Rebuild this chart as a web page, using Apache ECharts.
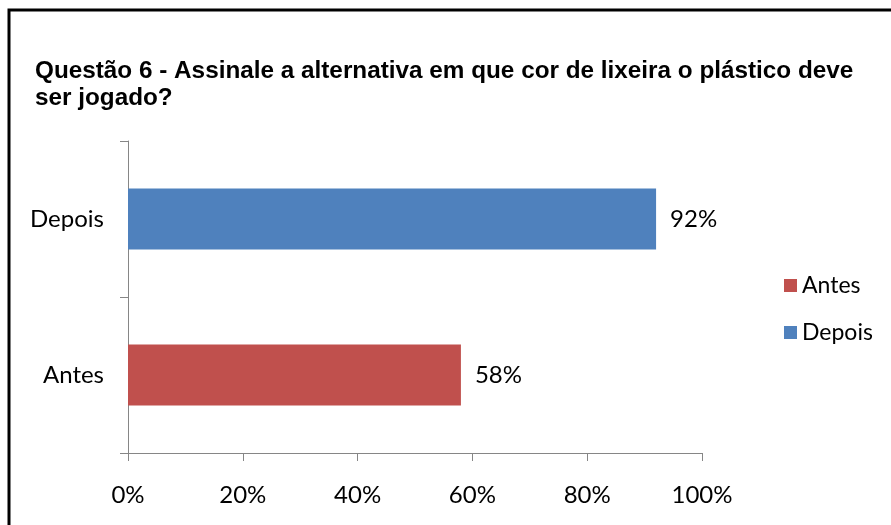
<!DOCTYPE html>
<html><head><meta charset="utf-8">
<script src="https://cdn.jsdelivr.net/npm/echarts@6/dist/echarts.min.js"></script>
<style>html,body{margin:0;padding:0;background:#fff}#c{width:891px;height:525px}</style>
</head><body><div id="c"></div>
<script>
const titleText = "Questão 6 - Assinale a alternativa em que cor de lixeira o plástico deve\nser jogado?";
const categories = ["Antes", "Depois"];
const antesValues = [58, null];
const depoisValues = [null, 92];
const xTicks = [0, 20, 40, 60, 80, 100];

const chart = echarts.init(document.getElementById('c'));
const font = 'Lato';
const labelStyle = {show: true, position: 'right', distance: 14, formatter: p => p.value + '%', fontFamily: font, fontSize: 24, color: '#000'};
chart.setOption({
  animation: false,
  graphic: [{type: 'rect', shape: {x: 9, y: 10, width: 900, height: 600}, style: {fill: 'none', stroke: '#000', lineWidth: 3}, z: 100}],
  title: {text: titleText, left: 30, top: 53, textStyle: {fontFamily: 'Liberation Sans', fontWeight: 'bold', fontSize: 24.3, lineHeight: 27, color: '#000'}},
  grid: {left: 128, top: 141, width: 574, height: 312, containLabel: false},
  legend: {orient: 'vertical', left: 779, top: 269, itemWidth: 13, itemHeight: 13, itemGap: 24, icon: 'rect',
    textStyle: {fontFamily: font, fontSize: 23, color: '#000'}, data: ['Antes', 'Depois']},
  xAxis: {type: 'value', min: 0, max: 100, interval: 20,
    axisLine: {show: true, lineStyle: {color: '#868686'}},
    axisTick: {show: true, length: 8, lineStyle: {color: '#868686'}},
    splitLine: {show: false},
    axisLabel: {formatter: v => xTicks.includes(v) ? v + '%' : '', fontFamily: font, fontSize: 24, color: '#000', margin: 30}},
  yAxis: {type: 'category', data: categories,
    axisLine: {lineStyle: {color: '#868686'}},
    axisTick: {show: true, length: 8, lineStyle: {color: '#868686'}},
    axisLabel: {fontFamily: font, fontSize: 24, color: '#000', margin: 24}},
  series: [
    {name: 'Antes', type: 'bar', stack: 's', data: antesValues, barWidth: '39%', itemStyle: {color: '#C0504D'}, label: labelStyle},
    {name: 'Depois', type: 'bar', stack: 's', data: depoisValues, barWidth: '39%', itemStyle: {color: '#4F81BD'}, label: labelStyle}
  ]
});
</script></body></html>
